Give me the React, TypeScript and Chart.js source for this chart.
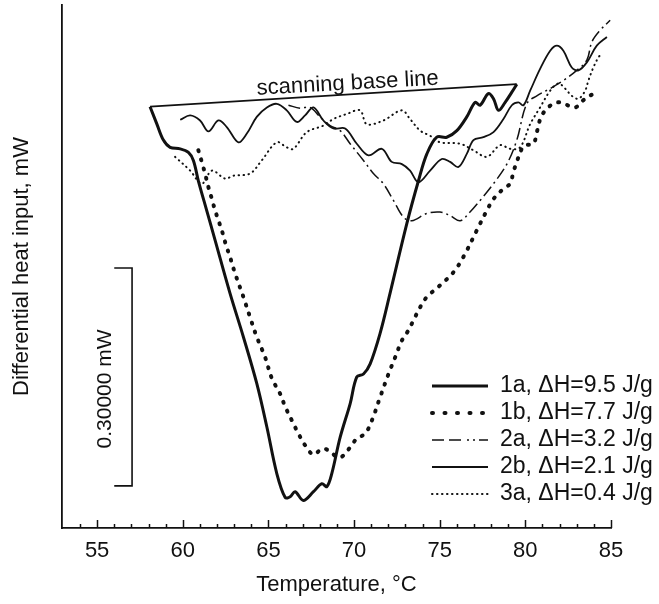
import React, { useEffect, useRef } from "react";
import { Chart, registerables } from "chart.js";

Chart.register(...registerables);

// ---------- data (temperature °C, differential heat input mW) ----------
const T_1A = [58.09, 58.49, 58.87, 59.26, 59.85, 60.33, 60.62, 60.91, 61.40, 61.89, 62.76, 63.54, 64.32, 64.91, 65.49, 65.98, 66.27, 66.56, 67.04, 67.63, 68.12, 68.41, 68.70, 69.19, 69.77, 70.16, 70.55, 70.94, 71.52, 72.10, 73.08, 73.76, 74.25, 74.83, 75.41, 76.00, 76.58, 77.07, 77.36, 77.84, 78.14, 78.43, 78.82, 79.21, 79.50];
const Y_1A = [0.580, 0.556, 0.534, 0.524, 0.522, 0.517, 0.506, 0.478, 0.437, 0.396, 0.323, 0.263, 0.199, 0.139, 0.075, 0.042, 0.043, 0.050, 0.038, 0.050, 0.061, 0.057, 0.075, 0.125, 0.171, 0.208, 0.212, 0.226, 0.268, 0.323, 0.419, 0.478, 0.515, 0.538, 0.538, 0.547, 0.566, 0.586, 0.582, 0.598, 0.591, 0.575, 0.586, 0.600, 0.611];

const T_1B = [60.91, 61.11, 61.30, 61.50, 61.70, 61.89, 62.12, 62.34, 62.53, 62.76, 63.06, 63.54, 63.93, 64.32, 64.81, 65.20, 65.68, 65.98, 66.37, 66.75, 67.14, 67.63, 68.12, 68.50, 68.99, 69.28, 69.77, 70.16, 70.65, 71.04, 71.52, 72.01, 72.40, 72.79, 73.17, 73.47, 73.86, 74.25, 75.02, 75.80, 76.38, 77.17, 77.75, 78.14, 78.72, 79.11, 79.30, 79.50, 79.79, 79.99, 80.47, 80.67, 80.96, 81.54, 82.03, 82.90, 83.39, 83.97];
const Y_1B = [0.520, 0.504, 0.488, 0.469, 0.453, 0.437, 0.421, 0.405, 0.389, 0.373, 0.350, 0.318, 0.290, 0.263, 0.235, 0.206, 0.185, 0.167, 0.148, 0.130, 0.114, 0.101, 0.109, 0.107, 0.098, 0.098, 0.111, 0.123, 0.130, 0.148, 0.180, 0.212, 0.235, 0.258, 0.272, 0.286, 0.304, 0.318, 0.334, 0.352, 0.373, 0.410, 0.437, 0.453, 0.467, 0.474, 0.490, 0.504, 0.522, 0.527, 0.529, 0.545, 0.568, 0.583, 0.586, 0.579, 0.589, 0.598];

const T_2A = [66.17, 66.85, 67.43, 68.02, 68.60, 69.19, 69.77, 70.55, 71.13, 71.71, 72.30, 72.88, 73.37, 74.25, 75.02, 75.61, 76.19, 76.77, 77.36, 78.14, 78.92, 79.50, 80.08, 80.67, 81.45, 82.22, 83.00, 83.59, 83.88, 84.36, 84.95];
const Y_2A = [0.582, 0.578, 0.579, 0.566, 0.554, 0.547, 0.529, 0.506, 0.488, 0.474, 0.451, 0.428, 0.423, 0.433, 0.435, 0.430, 0.423, 0.435, 0.451, 0.474, 0.501, 0.534, 0.584, 0.595, 0.605, 0.616, 0.630, 0.644, 0.669, 0.685, 0.699];

const T_2B = [59.85, 60.43, 61.01, 61.50, 62.08, 62.57, 63.25, 63.74, 64.32, 64.91, 65.49, 66.07, 66.66, 67.14, 67.63, 68.21, 68.79, 69.48, 70.16, 70.84, 71.62, 72.20, 72.79, 73.27, 73.76, 74.44, 75.12, 75.61, 76.09, 76.58, 76.97, 77.55, 78.14, 78.72, 79.21, 79.59, 79.89, 80.28, 80.86, 81.45, 81.84, 82.22, 82.71, 83.10, 83.59, 84.17, 84.76];
const Y_2B = [0.562, 0.568, 0.561, 0.546, 0.561, 0.552, 0.531, 0.543, 0.566, 0.579, 0.584, 0.575, 0.559, 0.568, 0.579, 0.561, 0.550, 0.550, 0.529, 0.513, 0.522, 0.504, 0.501, 0.492, 0.476, 0.492, 0.508, 0.504, 0.497, 0.515, 0.534, 0.538, 0.545, 0.563, 0.582, 0.586, 0.582, 0.602, 0.632, 0.657, 0.664, 0.657, 0.634, 0.630, 0.641, 0.664, 0.676];

const T_3A = [59.55, 60.43, 61.11, 61.70, 62.47, 62.96, 63.93, 64.61, 65.49, 66.07, 66.46, 67.24, 68.21, 68.79, 69.58, 70.35, 70.74, 71.71, 72.79, 73.27, 73.86, 74.44, 75.02, 76.19, 76.97, 77.75, 78.53, 79.11, 79.69, 80.28, 80.86, 81.45, 81.93, 82.32, 82.71, 83.10, 83.49, 83.68, 83.97, 84.27, 84.46];
const Y_3A = [0.511, 0.492, 0.474, 0.492, 0.481, 0.485, 0.488, 0.506, 0.531, 0.524, 0.522, 0.545, 0.554, 0.563, 0.570, 0.575, 0.556, 0.561, 0.575, 0.563, 0.547, 0.540, 0.531, 0.529, 0.520, 0.511, 0.527, 0.522, 0.524, 0.556, 0.579, 0.602, 0.612, 0.605, 0.595, 0.591, 0.602, 0.616, 0.634, 0.648, 0.653];

const T_BASE = [58.09, 79.50];
const Y_BASE = [0.580, 0.611];

const SERIES_LABELS = ["1a, \u0394H=9.5 J/g", "1b, \u0394H=7.7 J/g", "2a, \u0394H=3.2 J/g", "2b, \u0394H=2.1 J/g", "3a, \u0394H=0.4 J/g"];
const X_TICKS = [54, 55, 56, 57, 58, 59, 60, 61, 62, 63, 64, 65, 66, 67, 68, 69, 70, 71, 72, 73, 74, 75, 76, 77, 78, 79, 80, 81, 82, 83, 84, 85];
const X_MIN = 52.95;
const X_MAX = 85;
const Y_MIN = 0;
const Y_MAX = 0.72;

const SCALE_BAR_START = 0.058; // mW
const SCALE_BAR_SIZE = 0.3; // mW
const SCALE_BAR_LABEL = "0.30000 mW";
const BASELINE_LABEL = "scanning base line";

const FONT = '"Liberation Sans", Arial, Helvetica, sans-serif';
const INK = "#111";

const pts = (xs: number[], ys: number[]) => xs.map((x, i) => ({ x, y: ys[i] }));

const decorPlugin = {
  id: "decor",
  afterDraw(chart: any) {
    const { ctx, chartArea } = chart;
    const xs = chart.scales.x;
    const ys = chart.scales.y;
    ctx.save();
    ctx.strokeStyle = INK;
    ctx.fillStyle = INK;

    // inward tick marks on x axis
    ctx.lineWidth = 1.5;
    xs.ticks.forEach((t: any) => {
      const px = Math.round(xs.getPixelForValue(t.value)) + 0.5;
      const len = t.value % 5 === 0 ? 8 : 4;
      ctx.beginPath();
      ctx.moveTo(px, chartArea.bottom);
      ctx.lineTo(px, chartArea.bottom - len);
      ctx.stroke();
    });

    // scale bar
    const bx = xs.getPixelForValue(57.04);
    const sx = xs.getPixelForValue(56.0);
    const y0 = ys.getPixelForValue(SCALE_BAR_START);
    const y1 = ys.getPixelForValue(SCALE_BAR_START + SCALE_BAR_SIZE);
    ctx.lineWidth = 1.6;
    ctx.beginPath();
    ctx.moveTo(sx, y1);
    ctx.lineTo(bx, y1);
    ctx.lineTo(bx, y0);
    ctx.lineTo(sx, y0);
    ctx.stroke();
    ctx.save();
    ctx.translate(xs.getPixelForValue(55.47), (y0 + y1) / 2 + 12);
    ctx.rotate(-Math.PI / 2);
    ctx.font = `21px ${FONT}`;
    ctx.textAlign = "center";
    ctx.textBaseline = "middle";
    ctx.fillText(SCALE_BAR_LABEL, 0, 0);
    ctx.restore();

    // baseline label
    ctx.save();
    ctx.translate(xs.getPixelForValue(69.65), ys.getPixelForValue(0.6035));
    ctx.rotate((-3.2 * Math.PI) / 180);
    ctx.font = `22px ${FONT}`;
    ctx.textAlign = "center";
    ctx.textBaseline = "alphabetic";
    ctx.fillText(BASELINE_LABEL, 0, 0);
    ctx.restore();

    // legend
    const LX0 = 432;
    const LX1 = 488;
    const LTX = 500;
    const LY = 386;
    const STEP = 27;
    let row = 0;
    chart.data.datasets.forEach((ds: any) => {
      if (!ds.inLegend) return;
      const y = LY + row * STEP;
      ctx.save();
      ctx.lineWidth = ds.borderWidth;
      ctx.setLineDash(ds.legendDash || ds.borderDash || []);
      ctx.lineCap = ds.borderCapStyle || "butt";
      ctx.strokeStyle = ds.borderColor;
      ctx.beginPath();
      ctx.moveTo(LX0, y);
      ctx.lineTo(LX1, y);
      ctx.stroke();
      ctx.restore();
      ctx.font = `23px ${FONT}`;
      ctx.textAlign = "left";
      ctx.textBaseline = "middle";
      ctx.fillText(ds.label, LTX, y);
      row++;
    });
    ctx.restore();
  },
};

export default function App() {
  const ref = useRef<HTMLCanvasElement | null>(null);
  useEffect(() => {
    document.body.style.margin = "0";
    const canvas = ref.current;
    if (!canvas) return;
    const common = { pointRadius: 0, fill: false, tension: 0.35, borderColor: INK, inLegend: true } as any;
    const chart = new Chart(canvas, {
      type: "line",
      data: {
        datasets: [
          { ...common, label: SERIES_LABELS[0], data: pts(T_1A, Y_1A), borderWidth: 3 },
          { ...common, label: SERIES_LABELS[1], data: pts(T_1B, Y_1B), borderWidth: 4, borderDash: [1, 8.5], legendDash: [1, 11.5], borderCapStyle: "round" },
          { ...common, label: SERIES_LABELS[2], data: pts(T_2A, Y_2A), borderWidth: 1.5, borderDash: [12, 4, 2, 4], legendDash: [12, 5, 12, 6, 2, 4, 2, 4] },
          { ...common, label: SERIES_LABELS[3], data: pts(T_2B, Y_2B), borderWidth: 1.8 },
          { ...common, label: SERIES_LABELS[4], data: pts(T_3A, Y_3A), borderWidth: 2, borderDash: [0.5, 4.5], borderCapStyle: "round" },
          { ...common, label: "baseline", inLegend: false, data: pts(T_BASE, Y_BASE), borderWidth: 1.8, tension: 0 },
        ],
      } as any,
      options: {
        responsive: false,
        animation: false,
        devicePixelRatio: 1,
        layout: { padding: { top: 5, right: 48, left: 0, bottom: 0 } },
        plugins: { legend: { display: false }, tooltip: { enabled: false } },
        elements: { point: { radius: 0 } },
        scales: {
          x: {
            type: "linear",
            min: X_MIN,
            max: X_MAX,
            afterBuildTicks: (s: any) => {
              s.ticks = X_TICKS.map((v) => ({ value: v }));
            },
            afterFit: (s: any) => {
              s.height = 76;
            },
            grid: { display: false, drawTicks: false, tickLength: 0 },
            border: { display: true, color: INK, width: 1.8 },
            ticks: {
              autoSkip: false,
              maxRotation: 0,
              padding: 10,
              color: INK,
              font: { family: FONT, size: 22 },
              callback: (v: any) => (Number(v) % 5 === 0 ? String(v) : ""),
            },
            title: {
              display: true,
              text: "Temperature, \u00B0C",
              color: INK,
              font: { family: FONT, size: 22 },
              padding: { top: 0, bottom: 6 },
            },
          },
          y: {
            type: "linear",
            min: Y_MIN,
            max: Y_MAX,
            afterFit: (s: any) => {
              s.width = 62;
            },
            grid: { display: false, drawTicks: false },
            border: { display: true, color: INK, width: 1.8 },
            ticks: { display: false },
            title: {
              display: true,
              text: "Differential heat input, mW",
              color: INK,
              font: { family: FONT, size: 22 },
              padding: { top: 9, bottom: 0 },
            },
          },
        },
      } as any,
      plugins: [decorPlugin],
    });
    return () => chart.destroy();
  }, []);
  return (
    <div style={{ width: 659, height: 604, background: "#fff" }}>
      <canvas ref={ref} width={659} height={604} style={{ display: "block" }} />
    </div>
  );
}
